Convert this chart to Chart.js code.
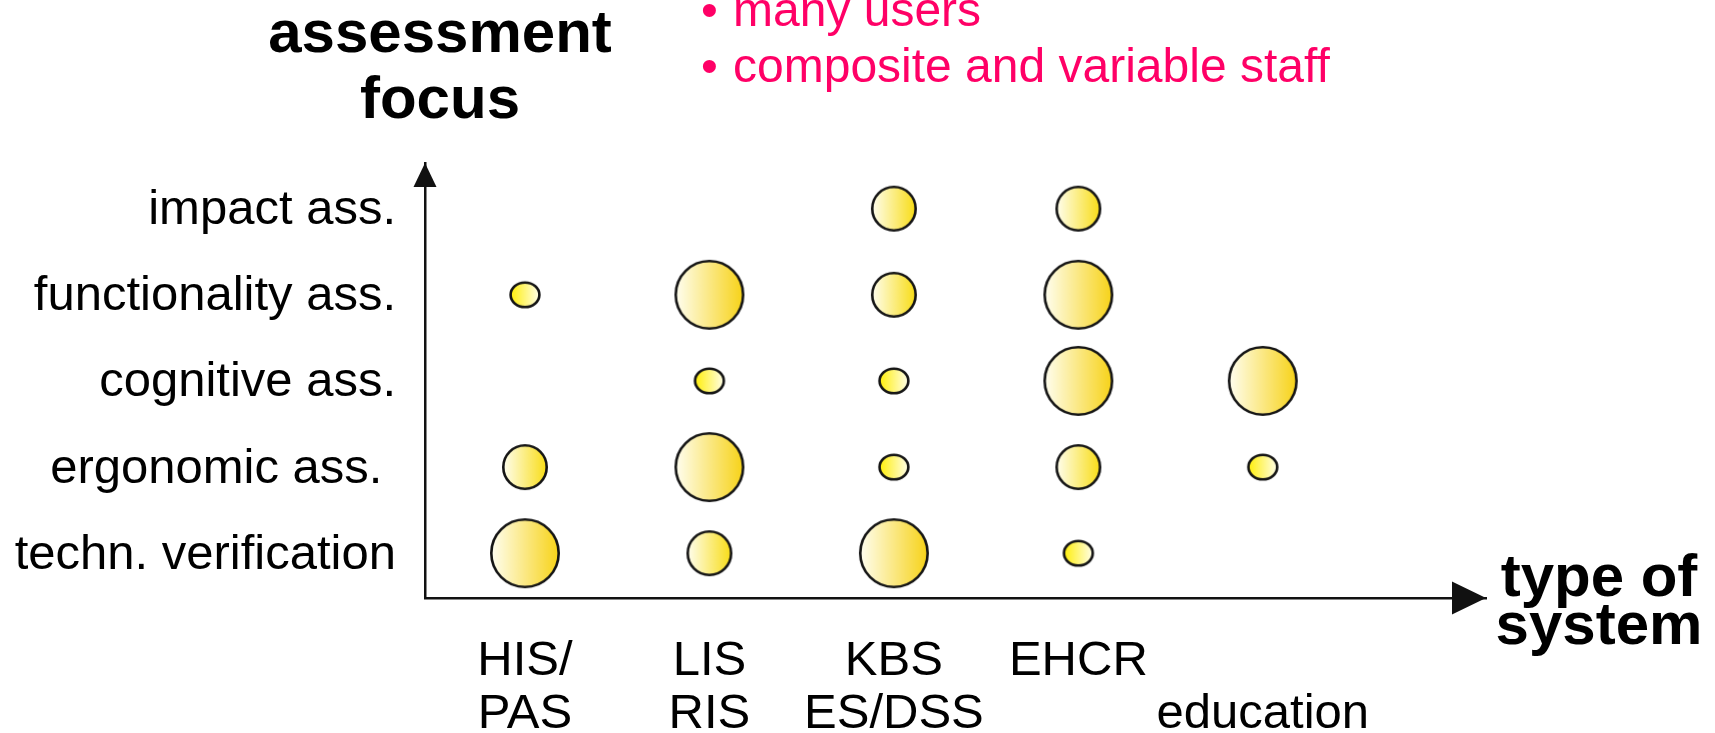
<!DOCTYPE html>
<html>
<head>
<meta charset="utf-8">
<script src="https://cdn.jsdelivr.net/npm/chart.js@4.4.1/dist/chart.umd.min.js"></script>
<style>
    html, body { margin: 0; padding: 0; background: #fff; }
    #wrap { width: 1715px; height: 733px; }
</style>
</head>
<body>
<div id="wrap"><canvas id="focus-chart" width="1715" height="733"></canvas></div>
<script>
// type of system (x axis), left to right
var systems = ["HIS/PAS", "LIS/RIS", "KBS ES/DSS", "EHCR", "education"];
var systemTicks = [["HIS/", "PAS"], ["LIS", "RIS"], ["KBS", "ES/DSS"], ["EHCR", ""], ["", "education"]];

// assessment focus (y axis), bottom to top
var foci = ["techn. verification", "ergonomic ass. ", "cognitive ass.", "functionality ass.", "impact ass."];

// bubble size per system: 0 = none, 1 = small, 2 = medium, 3 = large
var technVerification = [3, 2, 3, 1, 0];
var ergonomicAss      = [2, 3, 1, 2, 1];
var cognitiveAss      = [0, 1, 1, 3, 3];
var functionalityAss  = [1, 3, 2, 3, 0];
var impactAss         = [0, 0, 2, 2, 0];

var notes = ["many users", "composite and variable staff"];

var rows = [technVerification, ergonomicAss, cognitiveAss, functionalityAss, impactAss];

var FONT = "'Liberation Sans', Arial, Helvetica, sans-serif";

function bubblePoints() {
    let pts = [];
    for (var r = 0; r < rows.length; r++) {
        for (var c = 0; c < rows[r].length; c++) {
            if (rows[r][c] > 0) {
                pts.push({ x: c + 1, y: r + 1, level: rows[r][c] });
            }
        }
    }
    return pts;
}

// bubble look per level: outer half-width, half-height, gradient
var bubbleLook = {
    1: { rx: 15.7, ry: 13.6, from: "#ffee00", to: "#fffff2" },
    2: { rx: 23, ry: 23, from: "#fffff4", to: "#f8dc10" },
    3: { rx: 35, ry: 35, from: "#fffff4", to: "#f7d214" }
};

function makeBubble(look) {
    let c = document.createElement("canvas");
    c.width = Math.ceil(look.rx) * 2 + 4;
    c.height = Math.ceil(look.ry) * 2 + 4;
    let g = c.getContext("2d");
    let cx = c.width / 2, cy = c.height / 2;
    let grad = g.createLinearGradient(cx - look.rx, 0, cx + look.rx, 0);
    grad.addColorStop(0, look.from);
    grad.addColorStop(1, look.to);
    g.beginPath();
    g.ellipse(cx, cy, look.rx - 1.3, look.ry - 1.3, 0, 0, Math.PI * 2);
    g.fillStyle = grad;
    g.fill();
    g.lineWidth = 2.6;
    g.strokeStyle = "#151515";
    g.stroke();
    return c;
}

var bubbleImages = {};
Object.keys(bubbleLook).forEach(function (k) {
    bubbleImages[k] = makeBubble(bubbleLook[k]);
});

// arrow heads and free text around the axes
var decorations = {
    id: "decorations",
    afterDraw: function (chart) {
        let ctx = chart.ctx;
        let a = chart.chartArea;
        ctx.save();
        ctx.fillStyle = "#111";
        // y arrow
        ctx.beginPath();
        ctx.moveTo(a.left, a.top);
        ctx.lineTo(a.left - 11.5, a.top + 24);
        ctx.lineTo(a.left + 11.5, a.top + 24);
        ctx.closePath();
        ctx.fill();
        // x arrow
        ctx.beginPath();
        ctx.moveTo(a.right, a.bottom);
        ctx.lineTo(a.right - 34, a.bottom - 16.5);
        ctx.lineTo(a.right - 34, a.bottom + 16.5);
        ctx.closePath();
        ctx.fill();

        ctx.fillStyle = "#000";
        ctx.textBaseline = "alphabetic";
        ctx.textAlign = "center";
        ctx.font = "bold 60px " + FONT;
        ctx.fillText("assessment", 440, 52);
        ctx.fillText("focus", 440, 118);
        ctx.fillText("type of", 1599, 596);
        ctx.fillText("system", 1599, 644);

        ctx.fillStyle = "#ff0066";
        ctx.textAlign = "left";
        ctx.font = "48px " + FONT;
        ctx.fillText("\u2022", 701, 26);
        ctx.fillText(notes[0], 733, 26);
        ctx.fillText("\u2022", 701, 82);
        ctx.fillText(notes[1], 733, 82);
        ctx.restore();
    }
};

var ctx = document.getElementById("focus-chart");

var bubbleChart = new Chart(ctx, {
    type: "bubble",
    data: {
        datasets: [{
            data: bubblePoints(),
            radius: function (c) { return bubbleLook[c.raw.level].rx; },
            pointStyle: function (c) { return bubbleImages[c.raw.level]; },
            backgroundColor: "#f7d214",
            borderColor: "#151515"
        }]
    },
    options: {
        responsive: false,
        animation: false,
        layout: { padding: { top: 163, right: 229, bottom: 0, left: 0 } },
        plugins: {
            legend: { display: false },
            tooltip: { enabled: false }
        },
        scales: {
            x: {
                type: "linear",
                min: 0.458,
                max: 6.21,
                grid: { display: false },
                border: { display: true, color: "#111", width: 2.5 },
                afterBuildTicks: function (axis) {
                    axis.ticks = systems.map(function (s, i) { return { value: i + 1 }; });
                },
                afterFit: function (scale) { scale.height = 135; },
                ticks: {
                    autoSkip: false,
                    maxRotation: 0,
                    minRotation: 0,
                    padding: 29,
                    color: "#000",
                    font: { family: FONT, size: 49, lineHeight: 1.08 },
                    callback: function (value) { return systemTicks[value - 1]; }
                }
            },
            y: {
                type: "linear",
                min: 0.48,
                max: 5.53,
                grid: { display: false },
                border: { display: true, color: "#111", width: 2.5 },
                afterBuildTicks: function (axis) {
                    axis.ticks = foci.map(function (s, i) { return { value: i + 1 }; });
                },
                afterFit: function (scale) { scale.width = 425; },
                ticks: {
                    autoSkip: false,
                    padding: 21,
                    labelOffset: 2,
                    color: "#000",
                    font: { family: FONT, size: 49 },
                    callback: function (value) { return foci[value - 1]; }
                }
            }
        }
    },
    plugins: [decorations]
});
</script>
</body>
</html>
